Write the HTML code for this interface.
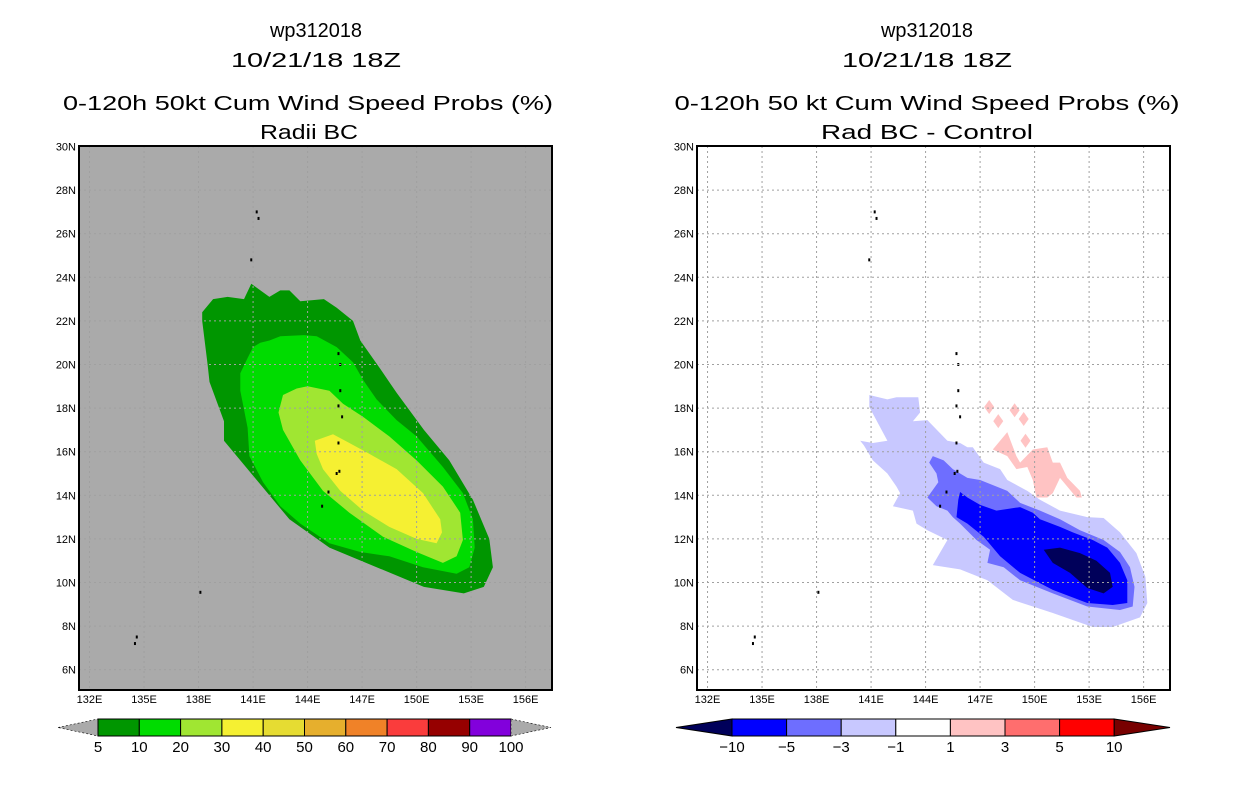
<!DOCTYPE html>
<html><head><meta charset="utf-8"><style>
html,body{margin:0;padding:0;background:#fff;}
svg{display:block;font-family:"Liberation Sans",sans-serif;}
</style></head><body>
<svg id="fig" width="1236" height="800" viewBox="0 0 1236 800">
<rect width="1236" height="800" fill="#fff"/>
<g font-size="20" fill="#000" text-anchor="middle">
<text x="316" y="37" textLength="92" lengthAdjust="spacingAndGlyphs">wp312018</text>
<text x="316" y="67" textLength="170" lengthAdjust="spacingAndGlyphs">10/21/18 18Z</text>
<text x="308" y="110" textLength="490" lengthAdjust="spacingAndGlyphs">0-120h 50kt Cum Wind Speed Probs (%)</text>
<text x="309" y="139" textLength="98" lengthAdjust="spacingAndGlyphs">Radii BC</text>
</g>
<g font-size="20" fill="#000" text-anchor="middle">
<text x="927" y="37" textLength="92" lengthAdjust="spacingAndGlyphs">wp312018</text>
<text x="927" y="67" textLength="170" lengthAdjust="spacingAndGlyphs">10/21/18 18Z</text>
<text x="927" y="110" textLength="505" lengthAdjust="spacingAndGlyphs">0-120h 50 kt Cum Wind Speed Probs (%)</text>
<text x="927" y="139" textLength="212" lengthAdjust="spacingAndGlyphs">Rad BC - Control</text>
</g>
<g id="leftPanel"></g>
<g id="rightPanel"></g>
<g id="cbars"></g>
</svg>
<script>
const lonTicks=[132,135,138,141,144,147,150,153,156];
const latTicks=[6,8,10,12,14,16,18,20,22,24,26,28,30];
const probLevels=["5","10","20","30","40","50","60","70","80","90","100"];
const probColors=["#009600","#00dc00","#a0e632","#f5f032","#e6dc32","#e6af2d","#f08228","#fa3c3c","#960000","#8200dc"];
const diffLevels=["-10","-5","-3","-1","1","3","5","10"];
const diffColors=["#00005a","#0000ff","#6e6eff","#c8c8ff","#ffffff","#ffc3c3","#ff6e6e","#ff0000","#780000"];
const prob5=[[140.9,23.7],[141.9,23.1],[142.5,23.4],[143.0,23.4],[143.6,22.9],[144.9,23.0],[145.6,22.6],[146.5,22.0],[146.9,21.1],[148.0,19.8],[148.9,18.7],[150.4,17.0],[151.8,15.6],[153.1,13.8],[154.0,12.0],[154.2,10.7],[153.7,9.8],[152.6,9.5],[150.4,9.8],[147.8,10.7],[145.2,11.6],[143.0,12.9],[141.2,14.7],[139.4,16.5],[139.4,17.4],[138.6,19.2],[138.5,20.0],[138.2,22.0],[138.2,22.4],[138.8,23.0],[139.6,23.1],[140.5,23.0]];
const prob10=[[141.4,21.0],[141.9,21.1],[142.5,21.3],[143.8,21.35],[144.5,21.3],[145.6,20.8],[146.5,20.1],[147.05,19.3],[147.8,18.4],[148.9,17.45],[150.0,16.7],[151.45,15.3],[152.55,14.1],[153.1,12.9],[153.2,11.6],[152.9,10.7],[152.2,10.4],[150.35,10.7],[148.5,11.2],[146.9,11.4],[145.2,11.8],[143.6,12.7],[142.5,13.5],[141.55,14.6],[140.8,15.8],[140.7,17.1],[140.3,18.8],[140.3,19.6],[140.7,20.3],[141.0,20.8]];
const prob20=[[142.65,18.6],[143.4,18.9],[144.0,19.0],[145.2,18.8],[145.95,18.2],[147.05,17.6],[148.5,16.7],[150.0,15.6],[151.45,14.4],[152.4,13.2],[152.55,11.95],[152.2,11.2],[151.45,10.9],[150.0,11.4],[148.15,12.1],[146.3,13.2],[144.85,14.2],[143.6,15.6],[142.65,17.0],[142.4,17.8]];
const prob30=[[144.4,16.5],[145.4,16.8],[146.3,16.4],[147.4,15.9],[148.9,15.2],[150.35,14.1],[151.3,12.9],[151.4,12.3],[151.1,11.8],[150.0,12.0],[148.5,12.55],[147.05,13.3],[145.8,14.2],[144.85,15.2],[144.5,15.9]];
const diffM1=[[140.9,18.6],[141.9,18.4],[142.4,18.5],[143.6,18.5],[143.7,17.8],[143.3,17.4],[144.1,17.45],[145.2,16.5],[145.9,16.4],[146.3,16.2],[146.6,16.2],[147.2,15.5],[148.1,15.2],[148.5,14.7],[149.6,14.2],[150.3,13.8],[151.4,13.3],[152.9,13.0],[153.8,12.96],[154.7,12.3],[155.6,11.35],[156.1,10.25],[156.2,9.06],[155.8,8.4],[154.3,7.96],[153.2,7.96],[151.0,8.6],[148.8,9.2],[147.4,10.1],[145.9,10.6],[144.4,10.8],[145.2,11.95],[144.1,12.4],[143.5,12.7],[143.3,13.3],[142.2,13.5],[142.6,14.1],[142.4,14.4],[141.9,15.0],[141.1,15.6],[140.6,16.3],[140.4,16.5],[141.1,16.4],[141.9,16.5],[140.9,18.05]];
const diffM3=[[144.4,15.8],[145.0,15.6],[145.5,15.2],[146.3,14.8],[147.0,14.7],[148.5,14.2],[149.2,13.65],[150.3,13.3],[151.4,12.9],[152.5,12.4],[153.8,11.95],[154.7,11.4],[155.25,10.7],[155.5,9.8],[155.4,8.9],[154.7,8.74],[152.9,8.9],[151.0,9.5],[149.2,10.1],[148.3,10.7],[147.4,10.9],[147.55,11.5],[146.8,11.95],[145.9,12.7],[145.5,13.0],[145.2,13.3],[144.6,13.5],[144.1,13.9],[144.7,14.6],[144.6,15.0],[144.2,15.5]];
const diffM5=[[145.9,14.15],[146.3,13.9],[147.0,13.56],[147.9,13.3],[149.2,13.46],[149.9,13.2],[150.3,12.9],[151.4,12.55],[152.1,12.3],[153.2,11.95],[154.0,11.6],[154.7,10.9],[155.1,10.1],[155.1,9.06],[154.3,8.97],[152.9,9.06],[151.0,9.66],[149.2,10.44],[148.1,11.2],[147.2,12.1],[146.3,12.7],[145.7,13.0],[145.8,13.8]];
const diffM10=[[150.5,11.5],[151.4,11.6],[152.5,11.35],[153.4,11.0],[154.15,10.44],[154.3,9.8],[153.8,9.5],[152.9,9.75],[151.95,10.44],[151.0,10.9]];
const diffP1=[[147.7,16.1],[148.5,16.9],[149.0,15.8],[149.2,15.5],[149.9,16.1],[150.7,16.2],[151.0,15.5],[151.4,15.5],[151.8,14.8],[152.5,14.2],[152.6,13.9],[152.3,13.9],[151.4,14.8],[151.0,14.1],[150.7,13.9],[150.1,13.9],[149.9,14.7],[149.6,15.3],[149.0,15.2],[148.5,15.8]];
const diffP1Spots=[[147.5,18.05],[148.0,17.4],[148.9,17.9],[149.4,17.5],[149.5,16.5]];
const islands=[[141.2,27.0],[141.3,26.7],[140.9,24.8],[145.7,20.5],[145.8,20.0],[145.8,18.8],[145.7,18.1],[145.9,17.6],[145.7,16.4],[145.75,15.1],[145.6,15.0],[145.15,14.15],[144.8,13.5],[138.1,9.55],[134.6,7.5],[134.5,7.2]];

const NS="http://www.w3.org/2000/svg";
function el(tag,attrs,parent){const e=document.createElementNS(NS,tag);for(const k in attrs)e.setAttribute(k,attrs[k]);parent.appendChild(e);return e;}
const PX0=79,PY0=146.5,LON0=131.42,LAT0=30,SX=18.17,SY=21.8,PW=473,PH=544;
function makePanel(g,off){
  const x=lon=>off+PX0+(lon-LON0)*SX;
  const y=lat=>PY0+(LAT0-lat)*SY;
  return {x,y};
}
function poly(g,ax,pts,fill,name){
  const p=el('polygon',{points:pts.map(q=>ax.x(q[0]).toFixed(1)+','+ax.y(q[1]).toFixed(1)).join(' '),fill:fill},g);
  
  
}
function frameAndAxes(g,ax,off,bg,side){
  const r=el('rect',{x:off+PX0,y:146,width:PW,height:PH,fill:bg},g);
  
  
}
function gridTicks(g,ax,off,side){
  const gg=el('g',{stroke:'#a0a0a0','stroke-width':1,'stroke-dasharray':'2,3'},g);
  
  
  lonTicks.forEach(l=>{el('line',{x1:ax.x(l),x2:ax.x(l),y1:146,y2:690},gg);});
  latTicks.forEach(l=>{el('line',{x1:off+PX0,x2:off+PX0+PW,y1:ax.y(l),y2:ax.y(l)},gg);});
  const fr=el('rect',{x:off+PX0,y:146,width:PW,height:PH,fill:'none',stroke:'#000','stroke-width':2},g);
  
  
  lonTicks.forEach(l=>{
    const t=el('text',{x:ax.x(l),y:703,'font-size':11,'text-anchor':'middle'},g);t.textContent=l+'E';
    
    
  });
  latTicks.forEach(l=>{
    const t=el('text',{x:off+76,y:ax.y(l)+4,'font-size':11,'text-anchor':'end'},g);t.textContent=l+'N';
    
    
  });
}
function drawIslands(g,ax,side){
  islands.forEach(q=>{
    const r=el('rect',{x:ax.x(q[0])-1,y:ax.y(q[1])-1.5,width:2,height:3,fill:'#000'},g);
    
    
  });
}
// left
const L=document.getElementById('leftPanel');const axL=makePanel(L,0);
frameAndAxes(L,axL,0,'#aaaaaa','left');
poly(L,axL,prob5,probColors[0],'prob-5-10');
poly(L,axL,prob10,probColors[1],'prob-10-20');
poly(L,axL,prob20,probColors[2],'prob-20-30');
poly(L,axL,prob30,probColors[3],'prob-30-40');
drawIslands(L,axL,'left');
gridTicks(L,axL,0,'left');
// right
const R=document.getElementById('rightPanel');const axR=makePanel(R,618);
frameAndAxes(R,axR,618,'#ffffff','right');
poly(R,axR,diffM1,diffColors[3],'diff-minus1-minus3');
poly(R,axR,diffM3,diffColors[2],'diff-minus3-minus5');
poly(R,axR,diffM5,diffColors[1],'diff-minus5-minus10');
poly(R,axR,diffM10,diffColors[0],'diff-below-minus10');
poly(R,axR,diffP1,diffColors[5],'diff-plus1-plus3');
diffP1Spots.forEach(q=>{
  const cx=axR.x(q[0]),cy=axR.y(q[1]);
  const d=el('polygon',{points:`${cx},${cy-7} ${cx+5},${cy} ${cx},${cy+7} ${cx-5},${cy}`,fill:diffColors[5]},R);
  
  
});
drawIslands(R,axR,'right');
gridTicks(R,axR,618,'right');
// colorbars
const C=document.getElementById('cbars');
(function(){
  const x0=98,w=41.3,y0=719,h=17;
  const lt=el('polygon',{points:`58,727.5 ${x0},${y0} ${x0},${y0+h}`,fill:'#aaaaaa',stroke:'#000','stroke-width':0.6,'stroke-dasharray':'2,2'},C);
  
  
  probColors.forEach((c,i)=>{
    const r=el('rect',{x:x0+i*w,y:y0,width:w,height:h,fill:c,stroke:'#000','stroke-width':1},C);
    
    
  });
  const xe=x0+probColors.length*w;
  const rt=el('polygon',{points:`${xe},${y0} ${xe+40},727.5 ${xe},${y0+h}`,fill:'#aaaaaa',stroke:'#000','stroke-width':0.6,'stroke-dasharray':'2,2'},C);
  
  
  probLevels.forEach((s,i)=>{
    const t=el('text',{x:x0+i*w,y:752,'font-size':15,'text-anchor':'middle'},C);t.textContent=s;
    
    
  });
})();
(function(){
  const x0=732,w=54.6,y0=719,h=17,n=diffColors.length-2;
  const lt=el('polygon',{points:`676,727.5 ${x0},${y0} ${x0},${y0+h}`,fill:diffColors[0],stroke:'#000','stroke-width':1},C);
  
  
  for(let i=0;i<n;i++){
    const r=el('rect',{x:x0+i*w,y:y0,width:w,height:h,fill:diffColors[i+1],stroke:'#000','stroke-width':1},C);
    
    
  }
  const xe=x0+n*w;
  const rt=el('polygon',{points:`${xe},${y0} 1170,727.5 ${xe},${y0+h}`,fill:diffColors[diffColors.length-1],stroke:'#000','stroke-width':1},C);
  
  
  diffLevels.forEach((s,i)=>{
    const t=el('text',{x:x0+i*w,y:752,'font-size':15,'text-anchor':'middle'},C);t.textContent=s.replace('-','\u2212');
    
    
  });
})();
</script>
</body></html>
